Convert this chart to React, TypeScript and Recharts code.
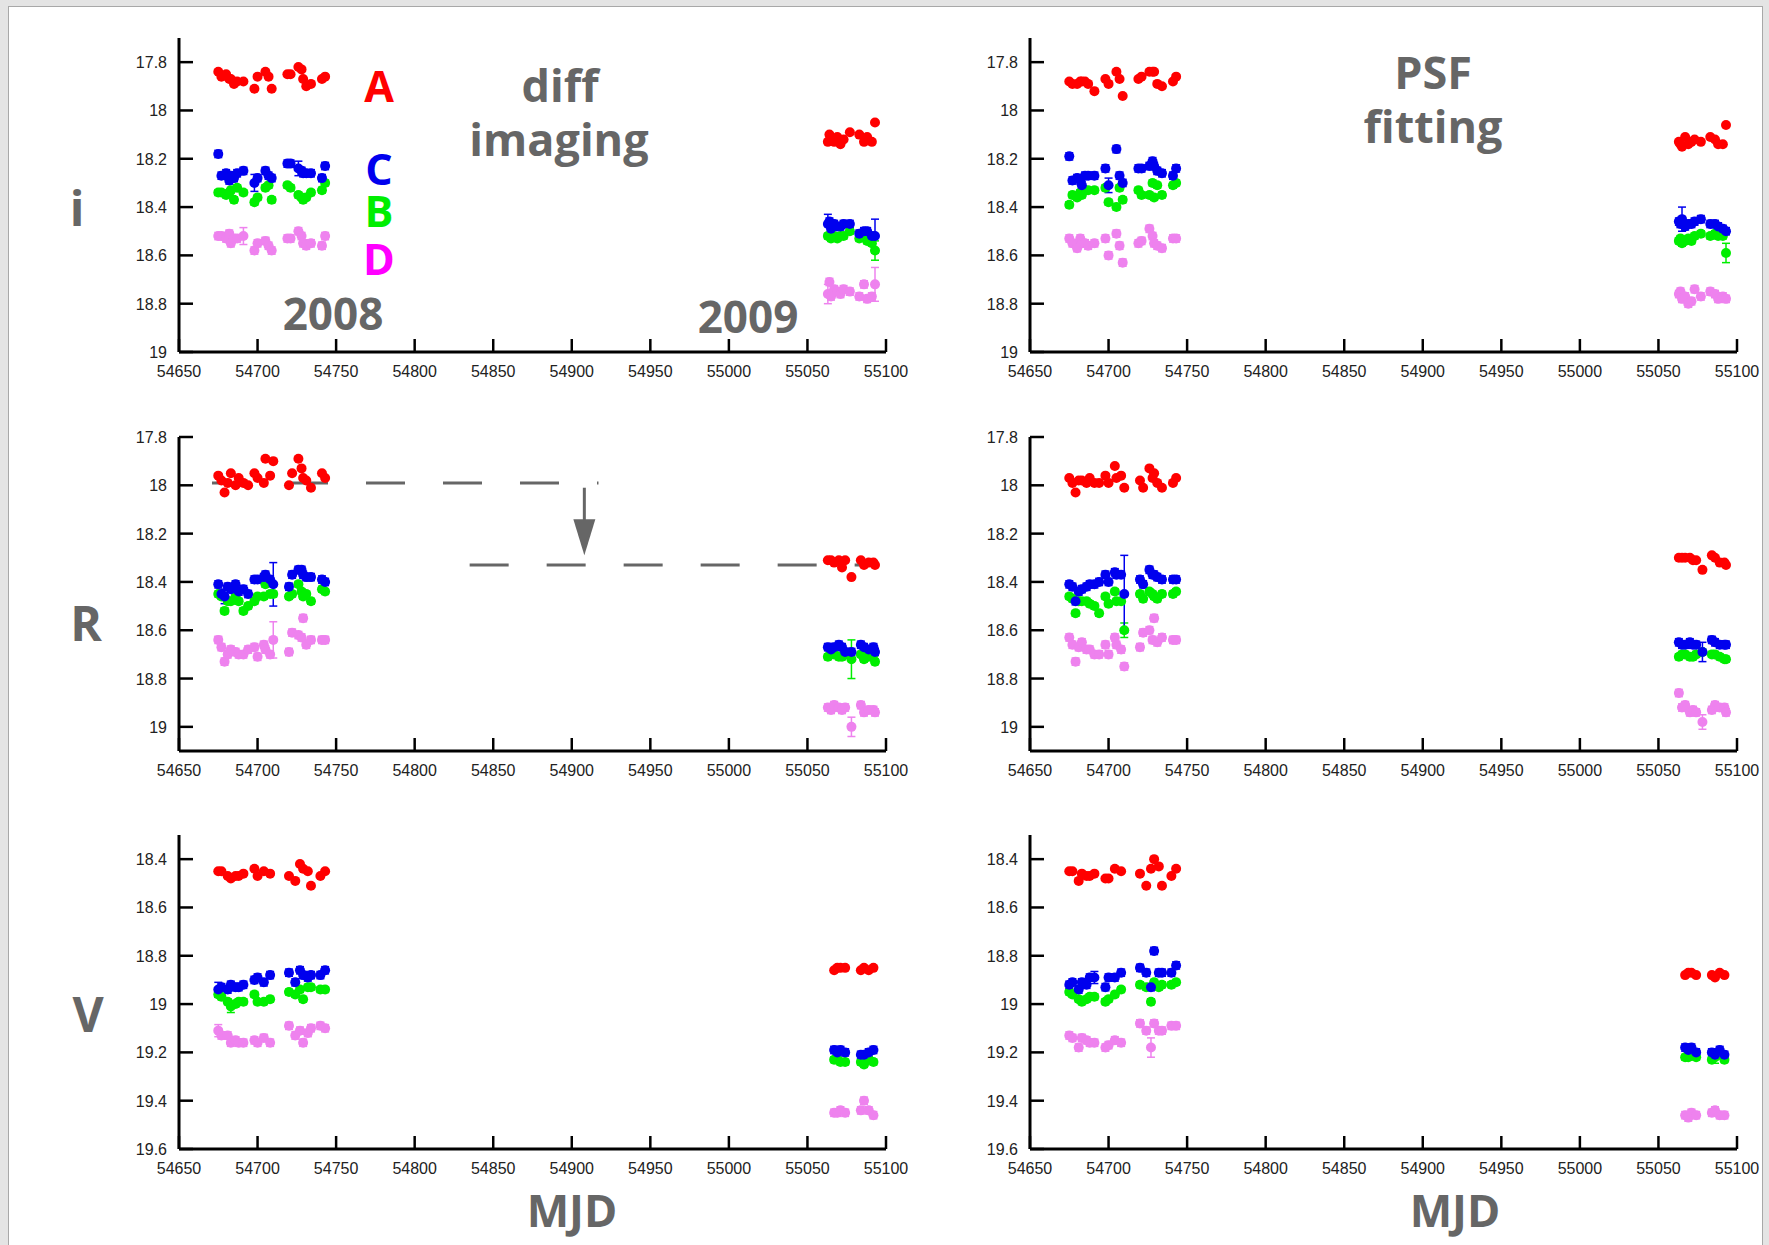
import React from 'react';
import { ScatterChart, Scatter, XAxis, YAxis, ErrorBar, ReferenceLine, ReferenceDot } from 'recharts';

// observation epochs (MJD) per filter and season
const epochsI08 = [54675, 54677, 54680, 54682, 54683, 54685, 54687, 54691, 54698, 54700, 54705, 54707, 54709, 54719, 54721, 54726, 54728, 54729, 54731, 54734, 54741, 54743];
const epochsI09 = [55063, 55064, 55065, 55067, 55069, 55071, 55073, 55077, 55083, 55086, 55088, 55091, 55093];
const epochsR08 = [54675, 54677, 54679, 54681, 54683, 54686, 54688, 54691, 54694, 54698, 54700, 54704, 54705, 54708, 54710, 54720, 54722, 54726, 54728, 54729, 54731, 54734, 54741, 54743];
const epochsR09 = [55063, 55065, 55067, 55070, 55072, 55074, 55078, 55084, 55086, 55089, 55092, 55093];
const epochsV08 = [54675, 54677, 54681, 54683, 54686, 54688, 54691, 54698, 54700, 54704, 54708, 54720, 54724, 54727, 54729, 54732, 54734, 54740, 54743];
const epochsV09 = [55067, 55069, 55071, 55074, 55084, 55086, 55089, 55092];

// i band, difference imaging
const iDiffA08 = [17.84, 17.86, 17.85, 17.87, 17.87, 17.89, 17.88, 17.88, 17.91, 17.86, 17.84, 17.86, 17.91, 17.85, 17.85, 17.82, 17.83, 17.87, 17.90, 17.89, 17.87, 17.86];
const iDiffA09 = [18.13, 18.10, 18.12, 18.13, 18.11, 18.14, 18.12, 18.09, 18.10, 18.13, 18.11, 18.13, 18.05];
const iDiffB08 = [18.34, 18.34, 18.35, 18.34, 18.33, 18.37, 18.32, 18.34, 18.38, 18.36, 18.32, 18.31, 18.37, 18.31, 18.32, 18.35, 18.36, 18.37, 18.36, 18.34, 18.33, 18.30];
const iDiffB09 = [18.52, 18.52, 18.53, 18.52, 18.53, 18.52, 18.52, 18.50, 18.53, 18.52, 18.54, 18.55, 18.58];
const iDiffC08 = [18.18, 18.27, 18.26, 18.29, 18.27, 18.28, 18.26, 18.25, 18.30, 18.28, 18.25, 18.27, 18.28, 18.22, 18.22, 18.24, 18.25, 18.26, 18.26, 18.26, 18.28, 18.23];
const iDiffC09 = [18.47, 18.46, 18.49, 18.47, 18.48, 18.48, 18.47, 18.47, 18.51, 18.50, 18.50, 18.52, 18.52];
const iDiffD08 = [18.52, 18.52, 18.53, 18.51, 18.55, 18.53, 18.53, 18.52, 18.58, 18.55, 18.54, 18.56, 18.58, 18.53, 18.53, 18.50, 18.52, 18.55, 18.56, 18.55, 18.56, 18.52];
const iDiffD09 = [18.76, 18.71, 18.77, 18.74, 18.75, 18.76, 18.74, 18.75, 18.77, 18.72, 18.78, 18.77, 18.72];

// i band, PSF fitting
const iPsfA08 = [17.88, 17.89, 17.89, 17.88, 17.88, 17.88, 17.89, 17.92, 17.87, 17.89, 17.84, 17.87, 17.94, 17.87, 17.86, 17.84, 17.84, 17.84, 17.89, 17.90, 17.88, 17.86];
const iPsfA09 = [18.13, 18.14, 18.15, 18.11, 18.14, 18.13, 18.12, 18.13, 18.11, 18.12, 18.14, 18.14, 18.06];
const iPsfB08 = [18.39, 18.35, 18.36, 18.34, 18.35, 18.33, 18.33, 18.33, 18.32, 18.38, 18.40, 18.32, 18.37, 18.33, 18.35, 18.35, 18.30, 18.36, 18.31, 18.35, 18.31, 18.30];
const iPsfB09 = [18.54, 18.53, 18.55, 18.54, 18.53, 18.54, 18.52, 18.51, 18.52, 18.51, 18.52, 18.52, 18.59];
const iPsfC08 = [18.19, 18.29, 18.28, 18.29, 18.31, 18.27, 18.27, 18.27, 18.24, 18.31, 18.16, 18.27, 18.30, 18.24, 18.24, 18.23, 18.21, 18.23, 18.25, 18.26, 18.27, 18.24];
const iPsfC09 = [18.46, 18.47, 18.45, 18.48, 18.47, 18.47, 18.46, 18.45, 18.47, 18.47, 18.48, 18.49, 18.50];
const iPsfD08 = [18.53, 18.55, 18.57, 18.53, 18.55, 18.55, 18.56, 18.55, 18.53, 18.60, 18.51, 18.56, 18.63, 18.55, 18.54, 18.49, 18.52, 18.55, 18.56, 18.57, 18.53, 18.53];
const iPsfD09 = [18.76, 18.75, 18.78, 18.77, 18.80, 18.79, 18.74, 18.77, 18.75, 18.76, 18.78, 18.77, 18.78];

// R band, difference imaging
const rDiffA08 = [17.96, 17.98, 18.03, 17.99, 17.95, 18.00, 17.97, 17.99, 18.00, 17.95, 17.97, 17.99, 17.89, 17.96, 17.90, 18.00, 17.95, 17.89, 17.93, 17.97, 17.98, 18.01, 17.95, 17.97];
const rDiffA09 = [18.31, 18.31, 18.32, 18.31, 18.34, 18.31, 18.38, 18.31, 18.33, 18.32, 18.32, 18.33];
const rDiffB08 = [18.45, 18.46, 18.52, 18.48, 18.48, 18.46, 18.48, 18.52, 18.50, 18.48, 18.46, 18.46, 18.41, 18.45, 18.45, 18.46, 18.45, 18.41, 18.44, 18.46, 18.45, 18.48, 18.43, 18.44];
const rDiffB09 = [18.71, 18.70, 18.70, 18.71, 18.71, 18.70, 18.72, 18.70, 18.72, 18.71, 18.70, 18.73];
const rDiffC08 = [18.41, 18.45, 18.46, 18.42, 18.43, 18.41, 18.44, 18.43, 18.45, 18.39, 18.39, 18.38, 18.37, 18.39, 18.41, 18.42, 18.37, 18.35, 18.35, 18.37, 18.38, 18.38, 18.39, 18.40];
const rDiffC09 = [18.67, 18.68, 18.67, 18.66, 18.67, 18.69, 18.69, 18.66, 18.67, 18.68, 18.67, 18.69];
const rDiffD08 = [18.64, 18.67, 18.73, 18.70, 18.68, 18.69, 18.70, 18.70, 18.68, 18.67, 18.71, 18.66, 18.68, 18.70, 18.64, 18.69, 18.61, 18.62, 18.63, 18.55, 18.66, 18.64, 18.64, 18.64];
const rDiffD09 = [18.92, 18.93, 18.91, 18.92, 18.93, 18.92, 19.00, 18.91, 18.94, 18.93, 18.93, 18.94];

// R band, PSF fitting
const rPsfA08 = [17.97, 17.99, 18.03, 17.98, 17.98, 17.99, 17.97, 17.99, 17.99, 17.96, 17.99, 17.92, 17.97, 17.96, 18.01, 17.98, 18.01, 17.93, 17.97, 17.95, 17.99, 18.01, 17.99, 17.97];
const rPsfA09 = [18.30, 18.30, 18.30, 18.30, 18.31, 18.31, 18.35, 18.29, 18.30, 18.32, 18.32, 18.33];
const rPsfB08 = [18.46, 18.47, 18.53, 18.48, 18.48, 18.48, 18.49, 18.50, 18.53, 18.46, 18.49, 18.44, 18.48, 18.48, 18.60, 18.45, 18.47, 18.44, 18.45, 18.46, 18.47, 18.45, 18.45, 18.44];
const rPsfB09 = [18.71, 18.70, 18.70, 18.71, 18.71, 18.70, 18.69, 18.70, 18.70, 18.71, 18.72, 18.72];
const rPsfC08 = [18.41, 18.42, 18.48, 18.44, 18.43, 18.42, 18.41, 18.41, 18.40, 18.37, 18.40, 18.36, 18.37, 18.37, 18.45, 18.39, 18.41, 18.35, 18.37, 18.37, 18.38, 18.39, 18.39, 18.39];
const rPsfC09 = [18.65, 18.66, 18.66, 18.65, 18.66, 18.66, 18.69, 18.64, 18.65, 18.66, 18.66, 18.66];
const rPsfD08 = [18.63, 18.66, 18.73, 18.67, 18.65, 18.68, 18.68, 18.70, 18.70, 18.66, 18.70, 18.63, 18.66, 18.68, 18.75, 18.67, 18.61, 18.60, 18.64, 18.55, 18.65, 18.63, 18.64, 18.64];
const rPsfD09 = [18.86, 18.92, 18.91, 18.94, 18.93, 18.94, 18.98, 18.93, 18.91, 18.92, 18.92, 18.94];

// V band, difference imaging
const vDiffA08 = [18.45, 18.45, 18.47, 18.48, 18.47, 18.47, 18.46, 18.44, 18.47, 18.45, 18.46, 18.47, 18.49, 18.42, 18.44, 18.45, 18.51, 18.47, 18.45];
const vDiffA09 = [18.86, 18.85, 18.85, 18.85, 18.86, 18.85, 18.86, 18.85];
const vDiffB08 = [18.96, 18.97, 18.99, 19.01, 19.00, 18.99, 18.99, 18.96, 18.99, 18.99, 18.98, 18.95, 18.96, 18.94, 18.98, 18.93, 18.93, 18.94, 18.94];
const vDiffB09 = [19.23, 19.23, 19.24, 19.24, 19.24, 19.25, 19.23, 19.24];
const vDiffC08 = [18.94, 18.93, 18.94, 18.92, 18.93, 18.93, 18.92, 18.90, 18.89, 18.91, 18.88, 18.87, 18.91, 18.86, 18.88, 18.89, 18.88, 18.88, 18.86];
const vDiffC09 = [19.19, 19.20, 19.19, 19.20, 19.21, 19.21, 19.20, 19.19];
const vDiffD08 = [19.11, 19.13, 19.13, 19.16, 19.15, 19.16, 19.16, 19.15, 19.16, 19.14, 19.16, 19.09, 19.13, 19.11, 19.16, 19.12, 19.10, 19.09, 19.10];
const vDiffD09 = [19.45, 19.45, 19.44, 19.45, 19.44, 19.40, 19.44, 19.46];

// V band, PSF fitting
const vPsfA08 = [18.45, 18.45, 18.49, 18.46, 18.47, 18.47, 18.46, 18.48, 18.48, 18.44, 18.45, 18.46, 18.51, 18.44, 18.40, 18.43, 18.51, 18.47, 18.44];
const vPsfA09 = [18.88, 18.87, 18.87, 18.88, 18.88, 18.89, 18.87, 18.88];
const vPsfB08 = [18.95, 18.96, 18.98, 18.99, 18.98, 18.97, 18.97, 18.99, 18.98, 18.96, 18.94, 18.92, 18.93, 18.99, 18.91, 18.93, 18.92, 18.92, 18.91];
const vPsfB09 = [19.22, 19.22, 19.21, 19.22, 19.23, 19.22, 19.21, 19.23];
const vPsfC08 = [18.92, 18.91, 18.94, 18.91, 18.92, 18.89, 18.89, 18.93, 18.89, 18.89, 18.87, 18.85, 18.87, 18.93, 18.78, 18.87, 18.87, 18.87, 18.84];
const vPsfC09 = [19.18, 19.19, 19.18, 19.20, 19.20, 19.21, 19.19, 19.21];
const vPsfD08 = [19.13, 19.14, 19.18, 19.14, 19.15, 19.16, 19.16, 19.18, 19.17, 19.15, 19.16, 19.08, 19.11, 19.18, 19.08, 19.11, 19.11, 19.09, 19.09];
const vPsfD09 = [19.46, 19.47, 19.45, 19.46, 19.45, 19.44, 19.46, 19.46];

// typical photometric errors per star, and the few larger ones
const typicalErr: Record<string, number> = { A: 0.004, B: 0.012, C: 0.015, D: 0.015 };
const largeErr: [string, string, number, number][] = [
  ['iDiff', 'C', 54698, 0.035], ['iDiff', 'C', 54726, 0.03], ['iDiff', 'C', 55063, 0.04],
  ['iDiff', 'C', 55093, 0.07], ['iDiff', 'B', 55093, 0.04], ['iDiff', 'D', 55093, 0.07],
  ['iDiff', 'D', 55063, 0.04], ['iDiff', 'D', 54691, 0.035],
  ['iPsf', 'C', 55065, 0.05], ['iPsf', 'B', 55093, 0.04], ['iPsf', 'C', 54700, 0.03],
  ['rDiff', 'C', 54710, 0.09], ['rDiff', 'D', 54710, 0.075], ['rDiff', 'B', 55078, 0.08],
  ['rDiff', 'D', 55078, 0.04], ['rDiff', 'C', 54679, 0.03],
  ['rPsf', 'C', 54710, 0.16], ['rPsf', 'B', 54710, 0.03], ['rPsf', 'C', 55078, 0.04],
  ['rPsf', 'D', 55078, 0.03],
  ['vDiff', 'C', 54675, 0.03], ['vDiff', 'D', 54675, 0.025], ['vDiff', 'B', 54683, 0.025],
  ['vPsf', 'D', 54727, 0.04], ['vPsf', 'C', 54691, 0.025], ['vPsf', 'B', 55086, 0.025],
];

const MJD_TICKS = [54650, 54700, 54750, 54800, 54850, 54900, 54950, 55000, 55050, 55100];
const MAG_TICKS_IR = [17.8, 18, 18.2, 18.4, 18.6, 18.8, 19];
const MAG_TICKS_V = [18.4, 18.6, 18.8, 19, 19.2, 19.4, 19.6];

const COLORS: Record<string, string> = { A: '#ff0000', B: '#00ee00', C: '#0000ee', D: '#ee82ee' };
const DRAW_ORDER = ['D', 'B', 'C', 'A'];

const PLOT_W = 707;
const PLOT_H = 314;
// axes get 1px of room; margins are trimmed so the plot area keeps its place
const MARGIN = { top: 10, right: 40, bottom: 39, left: 79 };
const TICK_FONT = '"Liberation Sans", Arial, sans-serif';
const LABEL_FONT = '"Open Sans", "DejaVu Sans", sans-serif';

type Pt = { x: number; y: number; err: number };

function lightCurve(key: string, star: string, e08: number[], e09: number[], m08: number[], m09: number[]): Pt[] {
  const pts = [
    ...m08.map((y, i) => ({ x: e08[i], y, err: typicalErr[star] })),
    ...m09.map((y, i) => ({ x: e09[i], y, err: typicalErr[star] })),
  ];
  largeErr.forEach(([k, s, mjd, err]) => {
    if (k !== key || s !== star) return;
    const p = pts.find((q) => q.x === mjd);
    if (p) p.err = err;
  });
  return pts;
}

const fmtMag = (v: number) => String(+v.toFixed(1));

const XTick = (p: any) => (
  <g>
    <line x1={p.x} x2={p.x} y1={p.y} y2={p.y - 13} stroke="#000" strokeWidth={2.5} />
    <text x={p.x} y={p.y + 25} textAnchor="middle" fontSize={16} fill="#222" fontFamily={TICK_FONT}>
      {p.payload.value}
    </text>
  </g>
);

const YTick = (p: any) => (
  <g>
    <line x1={p.x} x2={p.x + 14} y1={p.y} y2={p.y} stroke="#000" strokeWidth={2.5} />
    <text x={p.x - 12} y={p.y + 6} textAnchor="end" fontSize={16} fill="#222" fontFamily={TICK_FONT}>
      {fmtMag(p.payload.value)}
    </text>
  </g>
);

const dot = (color: string) => (p: any) => <circle cx={p.cx} cy={p.cy} r={5} fill={color} />;

const arrowHead = (p: any) => (
  <path d={`M${p.cx - 11},${p.cy - 36} L${p.cx + 11},${p.cy - 36} L${p.cx},${p.cy} Z`} fill="#666" />
);

type PanelProps = {
  left: number;
  top: number;
  domain: [number, number];
  ticks: number[];
  curves: Record<string, Pt[]>;
  extras?: React.ReactNode[];
};

function Panel({ left, top, domain, ticks, curves, extras = [] }: PanelProps) {
  return (
    <div style={{ position: 'absolute', left: left - MARGIN.left - 1, top: top - MARGIN.top }}>
      <ScatterChart
        width={PLOT_W + MARGIN.left + 1 + MARGIN.right}
        height={PLOT_H + MARGIN.top + MARGIN.bottom + 1}
        margin={MARGIN}
      >
        <XAxis
          type="number"
          dataKey="x"
          domain={[54650, 55100]}
          ticks={MJD_TICKS}
          interval={0}
          height={1}
          tickSize={0}
          tickMargin={0}
          tickLine={false}
          axisLine={{ stroke: '#000', strokeWidth: 3 }}
          tick={<XTick />}
          allowDataOverflow
        />
        <YAxis
          type="number"
          dataKey="y"
          domain={domain}
          reversed
          ticks={ticks}
          interval={0}
          width={1}
          tickSize={0}
          tickMargin={0}
          tickLine={false}
          axisLine={{ stroke: '#000', strokeWidth: 3 }}
          tick={<YTick />}
          allowDataOverflow
        />
        {DRAW_ORDER.map((s) => (
          <Scatter key={s} data={curves[s]} fill={COLORS[s]} shape={dot(COLORS[s])} isAnimationActive={false}>
            <ErrorBar dataKey="err" direction="y" width={4} stroke={COLORS[s]} strokeWidth={1.5} />
          </Scatter>
        ))}
        {extras}
      </ScatterChart>
    </div>
  );
}

const LEFT_X = 179;
const RIGHT_X = 1030;
const ROW_Y = [38, 437, 835];

// brightening of A between seasons, marked on the R difference-imaging panel
const rDiffExtras = [
  <ReferenceLine
    key="l08"
    segment={[{ x: 54671, y: 17.99 }, { x: 54917, y: 17.99 }]}
    stroke="#666"
    strokeWidth={3}
    strokeDasharray="39 38"
    ifOverflow="visible"
  />,
  <ReferenceLine
    key="l09"
    segment={[{ x: 54835, y: 18.33 }, { x: 55088, y: 18.33 }]}
    stroke="#666"
    strokeWidth={3}
    strokeDasharray="39 38"
    ifOverflow="visible"
  />,
  <ReferenceLine
    key="shaft"
    segment={[{ x: 54908, y: 18.01 }, { x: 54908, y: 18.15 }]}
    stroke="#666"
    strokeWidth={3}
    ifOverflow="visible"
  />,
  <ReferenceDot key="head" x={54908} y={18.29} r={1} shape={arrowHead} ifOverflow="visible" />,
];

export default function App() {
  const panels = [
    {
      key: 'iDiff', left: LEFT_X, top: ROW_Y[0], domain: [17.7, 19] as [number, number], ticks: MAG_TICKS_IR,
      e08: epochsI08, e09: epochsI09,
      m: { A: [iDiffA08, iDiffA09], B: [iDiffB08, iDiffB09], C: [iDiffC08, iDiffC09], D: [iDiffD08, iDiffD09] },
    },
    {
      key: 'iPsf', left: RIGHT_X, top: ROW_Y[0], domain: [17.7, 19] as [number, number], ticks: MAG_TICKS_IR,
      e08: epochsI08, e09: epochsI09,
      m: { A: [iPsfA08, iPsfA09], B: [iPsfB08, iPsfB09], C: [iPsfC08, iPsfC09], D: [iPsfD08, iPsfD09] },
    },
    {
      key: 'rDiff', left: LEFT_X, top: ROW_Y[1], domain: [17.8, 19.1] as [number, number], ticks: MAG_TICKS_IR,
      e08: epochsR08, e09: epochsR09,
      m: { A: [rDiffA08, rDiffA09], B: [rDiffB08, rDiffB09], C: [rDiffC08, rDiffC09], D: [rDiffD08, rDiffD09] },
      extras: rDiffExtras,
    },
    {
      key: 'rPsf', left: RIGHT_X, top: ROW_Y[1], domain: [17.8, 19.1] as [number, number], ticks: MAG_TICKS_IR,
      e08: epochsR08, e09: epochsR09,
      m: { A: [rPsfA08, rPsfA09], B: [rPsfB08, rPsfB09], C: [rPsfC08, rPsfC09], D: [rPsfD08, rPsfD09] },
    },
    {
      key: 'vDiff', left: LEFT_X, top: ROW_Y[2], domain: [18.3, 19.6] as [number, number], ticks: MAG_TICKS_V,
      e08: epochsV08, e09: epochsV09,
      m: { A: [vDiffA08, vDiffA09], B: [vDiffB08, vDiffB09], C: [vDiffC08, vDiffC09], D: [vDiffD08, vDiffD09] },
    },
    {
      key: 'vPsf', left: RIGHT_X, top: ROW_Y[2], domain: [18.3, 19.6] as [number, number], ticks: MAG_TICKS_V,
      e08: epochsV08, e09: epochsV09,
      m: { A: [vPsfA08, vPsfA09], B: [vPsfB08, vPsfB09], C: [vPsfC08, vPsfC09], D: [vPsfD08, vPsfD09] },
    },
  ];

  const gray = { fill: '#666', fontFamily: LABEL_FONT, fontWeight: 700 } as const;
  const star = { fontFamily: LABEL_FONT, fontWeight: 700, fontSize: 43, textAnchor: 'middle' } as const;

  return (
    <div style={{ position: 'absolute', left: 0, top: 0, width: 1769, height: 1245, background: '#e4e4e4', overflow: 'hidden' }}>
      <div
        style={{
          position: 'absolute', left: 8, top: 6, width: 1753, height: 1245,
          background: '#fff', borderLeft: '1px solid #a8a8a8', borderTop: '1px solid #a8a8a8', borderRight: '1px solid #a8a8a8',
        }}
      />
      {panels.map((p) => {
        const curves: Record<string, Pt[]> = {};
        Object.entries(p.m).forEach(([s, [m08, m09]]) => {
          curves[s] = lightCurve(p.key, s, p.e08, p.e09, m08, m09);
        });
        return (
          <Panel key={p.key} left={p.left} top={p.top} domain={p.domain} ticks={p.ticks} curves={curves} extras={p.extras} />
        );
      })}
      <svg width={1769} height={1245} style={{ position: 'absolute', left: 0, top: 0, pointerEvents: 'none' }}>
        <text x={77} y={226} fontSize={48} textAnchor="middle" {...gray}>i</text>
        <text x={86} y={641} fontSize={48} textAnchor="middle" {...gray}>R</text>
        <text x={88} y={1032} fontSize={48} textAnchor="middle" {...gray}>V</text>

        <text x={560} y={102} fontSize={45} textAnchor="middle" {...gray}>diff</text>
        <text x={559} y={156} fontSize={45} textAnchor="middle" {...gray}>imaging</text>
        <text x={1433} y={89} fontSize={45} textAnchor="middle" {...gray}>PSF</text>
        <text x={1433} y={143} fontSize={45} textAnchor="middle" {...gray}>fitting</text>

        <text x={333} y={330} fontSize={44} textAnchor="middle" {...gray}>2008</text>
        <text x={748} y={333} fontSize={44} textAnchor="middle" {...gray}>2009</text>

        <text x={379} y={102} fill="#ff0000" {...star}>A</text>
        <text x={379} y={185} fill="#0000ee" {...star}>C</text>
        <text x={379} y={227} fill="#00ee00" {...star}>B</text>
        <text x={379} y={275} fill="#ff00ff" {...star}>D</text>

        <text x={572} y={1227} fontSize={45} textAnchor="middle" {...gray}>MJD</text>
        <text x={1455} y={1227} fontSize={45} textAnchor="middle" {...gray}>MJD</text>
      </svg>
    </div>
  );
}
